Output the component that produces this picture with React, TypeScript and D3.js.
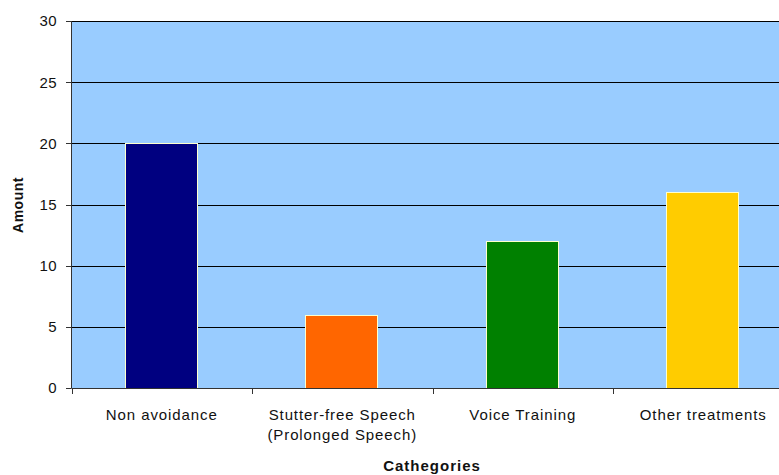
import React from "react";
import * as d3 from "d3";

const categories = ["Non avoidance", "Stutter-free Speech\n(Prolonged Speech)", "Voice Training", "Other treatments"];
const values = [20, 6, 12, 16];
const colors = ["#000080", "#FF6600", "#008000", "#FFCC00"];
const yTicks = [0, 5, 10, 15, 20, 25, 30];

export default function App() {
  const W = 779, H = 475;
  const left = 71.5, top = 21, bottom = 388;
  const x = d3.scaleBand<string>().domain(categories).range([left, left + 4 * 180.5]).paddingInner(0.6).paddingOuter(0.3);
  const y = d3.scaleLinear().domain([0, 30]).range([bottom, top]);
  const font = "Liberation Sans, Arial, sans-serif";
  const band = 180.5;
  return (
    <svg width={W} height={H} style={{ position: "absolute", left: 0, top: 0, background: "#fff" }} fontFamily={font}>
      <rect x={left} y={top} width={W - left} height={bottom - top} fill="#99CCFF" />
      <line x1={left} x2={W} y1={top + 0.5} y2={top + 0.5} stroke="#FFFFCC" />
      {yTicks.filter(t => t > 0).map(t => (
        <line key={t} x1={left} x2={W} y1={Math.round(y(t)) + 0.5} y2={Math.round(y(t)) + 0.5} stroke="#000" />
      ))}
      {categories.map((c, i) => (
        <rect key={c} x={Math.round(x(c)!) - 0.5} y={Math.round(y(values[i])) + 0.5} width={Math.round(x.bandwidth())} height={Math.round(bottom - y(values[i]))} fill={colors[i]} stroke="#FFFFCC" strokeWidth={1} />
      ))}
      <line x1={left} x2={left} y1={top} y2={bottom} stroke="#333" />
      <line x1={left} x2={W} y1={bottom + 0.5} y2={bottom + 0.5} stroke="#333" />
      {yTicks.map(t => (
        <g key={t}>
          <line x1={66} x2={left} y1={Math.round(y(t)) + 0.5} y2={Math.round(y(t)) + 0.5} stroke="#333" />
          <text x={57} y={y(t)} dy="0.36em" textAnchor="end" fontSize={15} letterSpacing={0.4} fill="#111">{t}</text>
        </g>
      ))}
      {[0, 1, 2, 3, 4].map(i => (
        <line key={i} x1={Math.round(left + i * band) + 0.5} x2={Math.round(left + i * band) + 0.5} y1={bottom} y2={bottom + 6} stroke="#333" />
      ))}
      {categories.map(c => {
        const cx = x(c)! + x.bandwidth() / 2;
        return c.split("\n").map((line, j) => (
          <text key={c + j} x={cx} y={420 + j * 20} textAnchor="middle" fontSize={15} letterSpacing={0.9} fill="#111">{line}</text>
        ));
      })}
      <text transform={`translate(23,205) rotate(-90)`} textAnchor="middle" fontSize={14} fontWeight="bold" fill="#111" letterSpacing={0.5}>Amount</text>
      <text x={432} y={471} textAnchor="middle" fontSize={15} fontWeight="bold" fill="#111" letterSpacing={1}>Cathegories</text>
    </svg>
  );
}
